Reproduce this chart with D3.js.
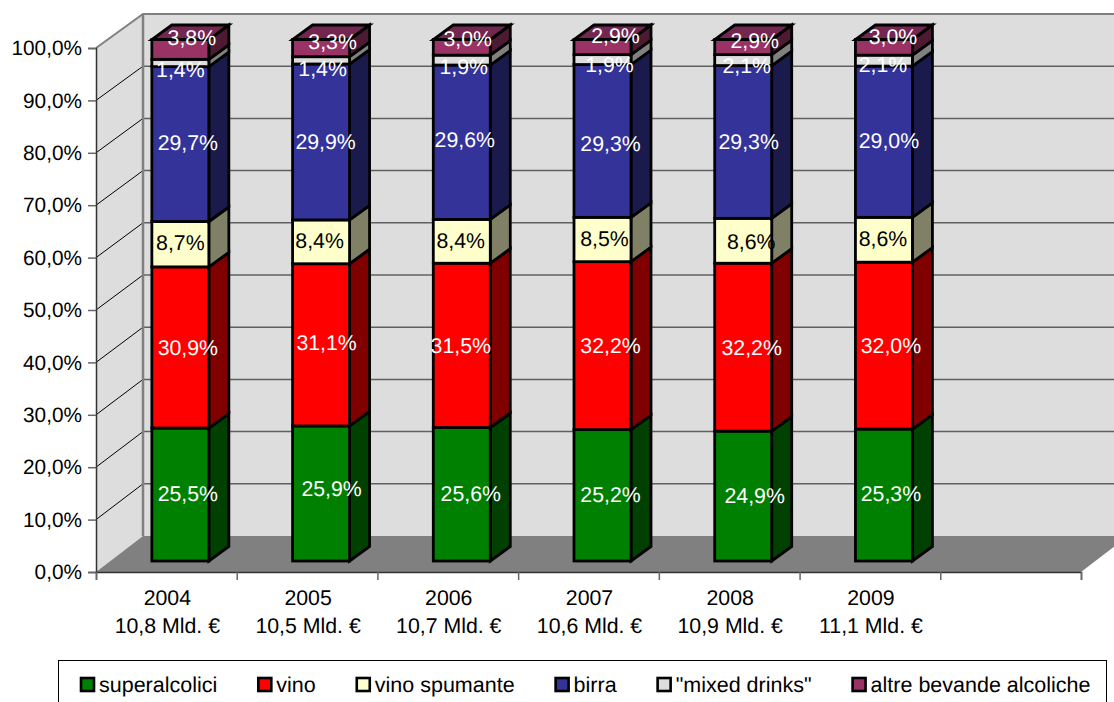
<!DOCTYPE html>
<html>
<head>
<meta charset="utf-8">
<script src="https://cdn.jsdelivr.net/npm/d3@7/dist/d3.min.js"></script>
<style>
html,body{margin:0;padding:0;background:#fff;overflow:hidden}
svg{display:block}
text{font-family:"Liberation Sans",Arial,sans-serif;text-rendering:geometricPrecision}
</style>
</head>
<body>
<svg id="chart" width="1114" height="702"></svg>
<script>
// Alcoholic drinks market share per year, as a stacked 3D column chart.
const years = ["2004","2005","2006","2007","2008","2009"];
const totals = ["10,8 Mld. €","10,5 Mld. €","10,7 Mld. €","10,6 Mld. €","10,9 Mld. €","11,1 Mld. €"];
const seriesNames = ["superalcolici","vino","vino spumante","birra","\"mixed drinks\"","altre bevande alcoliche"];
const superalcolici = [25.5,25.9,25.6,25.2,24.9,25.3];
const vino = [30.9,31.1,31.5,32.2,32.2,32.0];
const spumante = [8.7,8.4,8.4,8.5,8.6,8.6];
const birra = [29.7,29.9,29.6,29.3,29.3,29.0];
const mixedDrinks = [1.4,1.4,1.9,1.9,2.1,2.1];
const altre = [3.8,3.3,3.0,2.9,2.9,3.0];
const seriesValues = [superalcolici,vino,spumante,birra,mixedDrinks,altre];
const yTicks = [0,10,20,30,40,50,60,70,80,90,100];

// Hand-placed data label offsets, per year then per series.
const labelShiftX = [
  [7.5,7.5,0,7.5,0,11.5],[10.5,5.5,-1.5,4.5,1.5,11.5],[9,-1,-1,3,2,6],
  [8,8,2,8,7,13],[11.5,8.5,8,5.5,3.5,11.5],[7,7,-1,5,-1,9]];
const labelShiftY = [
  [-1.5,0,-2,-2,6,-12],[-5.5,-3,-2,-1,7.6,-7],[-1,0,-1,-3,6,-9],
  [-1,0,-1.5,2,4.4,-12],[-1,0,1,-1,5,-7],[-2,0,-1,-1,3.4,-11]];

const frontColors = ["#008000","#ff0000","#ffffcc","#333399","#dddddd","#993366"];
const sideColors  = ["#004000","#800000","#808066","#1a1a4d","#808080","#4d1a33"];
const labelColors = ["#fff","#fff","#000","#fff","#fff","#fff"];
const topColor = "#732650";

const svg = d3.select("#chart");
const fmt = v => d3.format(".1f")(v).replace(".", ",") + "%";
const fontSize = 21.3;

// Front plane scales; one empty slot stays to the right of the last year.
const slots = [...years, ""];
const xBand = d3.scaleBand().domain(slots).range([96,1081]).paddingInner(0.595).paddingOuter(0.2975);
const xEdge = d3.scaleLinear().domain([0,slots.length]).range([96,1081]);
const yFront = d3.scaleLinear().domain([0,100]).range([572,48]);
const yBack = d3.scaleLinear().domain([0,100]).range([536,14]);
const yBar = d3.scaleLinear().domain([0,100]).range([561,39.5]);

// Depth offsets: whole box, then where the columns sit inside it.
const boxDX = 47, boxDY = -36;
const barShiftX = 14, barDX = 20, barDY = -14.5;
const line = d3.line();
const poly = pts => line(pts) + "Z";

const wallX0 = 96 + boxDX, wallX1 = 1081 + boxDX;

// Walls and floor
svg.append("path").attr("d", poly([[wallX0,yBack(100)],[wallX1,yBack(100)],[wallX1,yBack(0)],[wallX0,yBack(0)]])).attr("fill","#dddddd");
svg.append("path").attr("d", poly([[96,yFront(100)],[wallX0,yBack(100)],[wallX0,yBack(0)],[96,yFront(0)]])).attr("fill","#dddddd");
svg.append("path").attr("d", poly([[96,yFront(0)],[wallX0,yBack(0)],[wallX1,yBack(0)],[1081,yFront(0)]])).attr("fill","#808080");

// Gridlines on the back and side walls
const grid = svg.append("g");
grid.selectAll("line.back").data(yTicks.filter(t => t > 0 && t < 100)).join("line").attr("class","back")
  .attr("x1",wallX0).attr("x2",wallX1).attr("y1",yBack).attr("y2",yBack)
  .attr("stroke","#606060").attr("stroke-width",1.5);
grid.selectAll("line.side").data(yTicks.filter(t => t > 0 && t < 100)).join("line").attr("class","side")
  .attr("x1",96).attr("x2",wallX0).attr("y1",yFront).attr("y2",yBack)
  .attr("stroke","#000").attr("stroke-width",1);

// Wall outline
svg.append("path").attr("d", line([[96,yFront(100)],[wallX0,yBack(100)],[wallX1,yBack(100)]]))
  .attr("fill","none").attr("stroke","#808080").attr("stroke-width",2);
svg.append("path").attr("d", line([[wallX0,yBack(100)],[wallX0,yBack(0)]]))
  .attr("fill","none").attr("stroke","#808080").attr("stroke-width",2.5);

// Columns
const barsLayer = svg.append("g").attr("stroke","#000").attr("stroke-width",2.8).attr("stroke-linejoin","miter");
years.forEach((year,i) => {
  const x0 = xBand(year) + barShiftX, x1 = x0 + xBand.bandwidth();
  let base = 0;
  seriesValues.forEach((vals,s) => {
    const y0 = yBar(base), y1 = yBar(base + vals[i]);
    const g = barsLayer.append("g");
    g.append("path").attr("d", poly([[x1,y0],[x1+barDX,y0+barDY],[x1+barDX,y1+barDY],[x1,y1]])).attr("fill",sideColors[s]);
    g.append("rect").attr("x",x0).attr("y",y1).attr("width",x1-x0).attr("height",y0-y1).attr("fill",frontColors[s]);
    if (s === seriesValues.length-1) {
      g.append("path").attr("d", poly([[x0,y1],[x1,y1],[x1+barDX,y1+barDY],[x0+barDX,y1+barDY]])).attr("fill",topColor);
    }
    base += vals[i];
  });
});

// Axes
const axisLeft = svg.append("g").attr("transform","translate(96,0)")
  .call(d3.axisLeft(yFront).tickValues(yTicks).tickSize(8).tickPadding(6).tickFormat(fmt));
const axisBottom = svg.append("g").attr("transform","translate(0,572)")
  .call(d3.axisBottom(xEdge).tickValues(d3.range(slots.length+1)).tickSize(8).tickFormat(""));
[axisLeft,axisBottom].forEach(a => {
  a.select(".domain").attr("stroke","#333").attr("stroke-width",1.5);
  a.selectAll(".tick line").attr("stroke","#666").attr("stroke-width",1.5);
});
axisLeft.selectAll("text").attr("font-size",20.8).attr("fill","#000").attr("font-family",null);

// Category labels: year and market total
const catLabels = svg.append("g").attr("text-anchor","middle").attr("font-size",fontSize).attr("fill","#000");
years.forEach((year,i) => {
  const cx = (xEdge(i) + xEdge(i+1)) / 2 + 1;
  catLabels.append("text").attr("x",cx).attr("y",605).text(year);
  catLabels.append("text").attr("x",cx).attr("y",632.5).text(totals[i]);
});

// Data labels
const valueLabels = svg.append("g").attr("text-anchor","middle").attr("font-size",fontSize);
years.forEach((year,i) => {
  const cx = xBand(year) + barShiftX + xBand.bandwidth()/2;
  let base = 0;
  seriesValues.forEach((vals,s) => {
    valueLabels.append("text")
      .attr("x",cx + labelShiftX[i][s])
      .attr("y",yBar(base + vals[i]/2) + labelShiftY[i][s])
      .attr("dy","0.36em")
      .attr("fill",labelColors[s])
      .text(fmt(vals[i]));
    base += vals[i];
  });
});

// Legend, laid out from the measured text widths
svg.append("rect").attr("x",58.5).attr("y",660.5).attr("width",1048).attr("height",60)
  .attr("fill","#fff").attr("stroke","#000").attr("stroke-width",1);
const legend = svg.append("g");
let lx = 81;
seriesNames.forEach((name,s) => {
  legend.append("rect").attr("x",lx).attr("y",678).attr("width",13).attr("height",13)
    .attr("fill",frontColors[s]).attr("stroke","#000").attr("stroke-width",2.6);
  const t = legend.append("text").attr("x",lx+18).attr("y",692).attr("font-size",21.5).attr("fill","#000").text(name);
  lx += 18 + t.node().getComputedTextLength() + 41;
});
</script>
</body>
</html>
